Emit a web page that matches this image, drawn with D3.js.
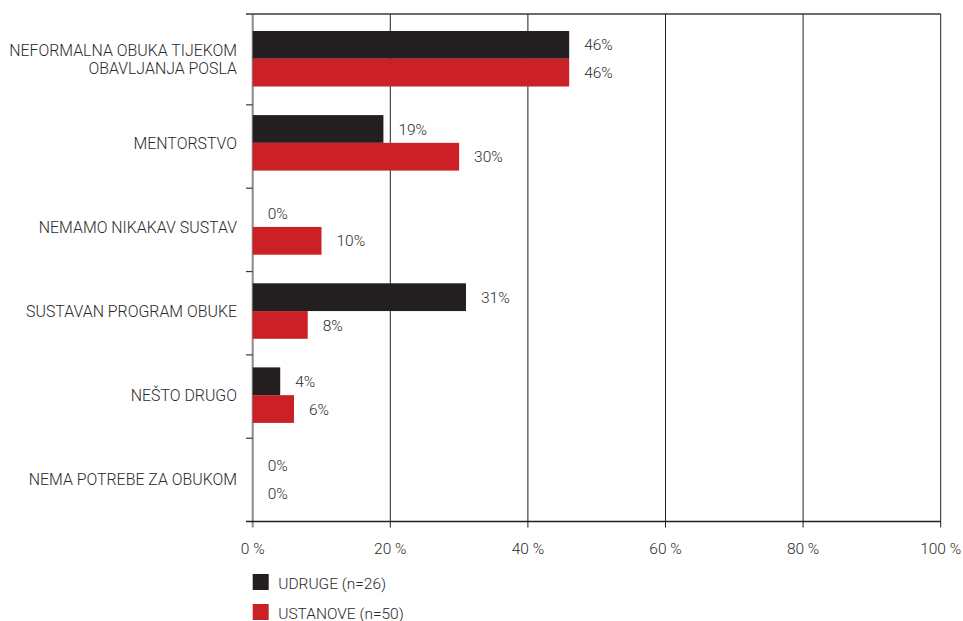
<!DOCTYPE html>
<html>
<head>
<meta charset="utf-8">
<script src="https://cdn.jsdelivr.net/npm/d3@7"></script>
<style>
  html, body { margin: 0; padding: 0; background: #fff; }
  svg { display: block; }
  text { font-family: Roboto, "Liberation Sans", sans-serif; font-weight: 300; fill: #2a2a2a; }
</style>
</head>
<body>
<svg id="chart" width="963" height="621"></svg>
<script>
// Categories (each may wrap onto two lines)
const categories = [
  ["NEFORMALNA OBUKA TIJEKOM", "OBAVLJANJA POSLA"],
  ["MENTORSTVO"],
  ["NEMAMO NIKAKAV SUSTAV"],
  ["SUSTAVAN PROGRAM OBUKE"],
  ["NEŠTO DRUGO"],
  ["NEMA POTREBE ZA OBUKOM"]
];
const seriesNames = ["UDRUGE (n=26)", "USTANOVE (n=50)"];
const udruge   = [46, 19, 0, 31, 4, 0];
const ustanove = [46, 30, 10, 8, 6, 0];
const xTicks = [0, 20, 40, 60, 80, 100];
const colors = ["#231f20", "#cc2027"];

const keys = categories.map(c => c.join(" "));
const values = [udruge, ustanove];

const svg = d3.select("#chart");

const x = d3.scaleLinear().domain([0, 100]).range([252.7, 940.7]);

// Scale for category separators along the left axis
const yAxisScale = d3.scaleBand().domain(keys).range([21.5, 521.6]);
// Scale for the bar groups
const y = d3.scaleBand().domain(keys).range([17, 521])
  .paddingInner(0.34).paddingOuter(0.1665);
const ySub = d3.scaleBand().domain(seriesNames).range([0, y.bandwidth()]);

const yTop = 14, yBottom = 521.6;

// Vertical gridlines (extend below the axis as tick marks)
svg.append("g")
  .selectAll("line")
  .data(xTicks)
  .join("line")
  .attr("x1", d => x(d)).attr("x2", d => x(d))
  .attr("y1", yTop).attr("y2", yBottom + 6)
  .attr("stroke", d => d === 0 ? "#8a8a8a" : "#231f20")
  .attr("stroke-width", d => d === 0 ? 2 : 1);

// Top border line
svg.append("line")
  .attr("x1", 246).attr("x2", x(100))
  .attr("y1", yTop).attr("y2", yTop)
  .attr("stroke", "#3a3a3a").attr("stroke-width", 1.5);

// Bottom axis line
svg.append("line")
  .attr("x1", 246).attr("x2", x(100))
  .attr("y1", yBottom).attr("y2", yBottom)
  .attr("stroke", "#231f20").attr("stroke-width", 1.5);

// Category separator ticks on the left axis
svg.append("g")
  .selectAll("line")
  .data(keys.slice(1))
  .join("line")
  .attr("x1", 246).attr("x2", x(0))
  .attr("y1", d => yAxisScale(d)).attr("y2", d => yAxisScale(d))
  .attr("stroke", "#3a3a3a").attr("stroke-width", 1.2);

// Bars
const rows = svg.append("g")
  .selectAll("g")
  .data(keys)
  .join("g")
  .attr("transform", d => `translate(0,${y(d)})`);

rows.each(function(k, i) {
  const g = d3.select(this);
  seriesNames.forEach((s, j) => {
    const v = values[j][i];
    g.append("rect")
      .attr("x", x(0))
      .attr("y", ySub(s))
      .attr("width", x(v) - x(0))
      .attr("height", ySub.bandwidth())
      .attr("fill", colors[j]);
    g.append("text")
      .attr("x", x(v) + 15)
      .attr("y", ySub(s) + ySub.bandwidth() / 2 + 5.6)
      .attr("font-size", 15.5)
      .text(v + "%");
  });
});

// Category labels
const labelSize = 15.9, lineH = 18;
categories.forEach((lines, i) => {
  const cy = y(keys[i]) + y.bandwidth() / 2;
  const t = svg.append("text")
    .attr("text-anchor", "end")
    .attr("font-size", labelSize);
  lines.forEach((ln, li) => {
    const off = (li - (lines.length - 1) / 2) * lineH;
    t.append("tspan")
      .attr("x", 237)
      .attr("y", cy + off + 5.8)
      .text(ln);
  });
});

// X axis tick labels
svg.append("g")
  .selectAll("text")
  .data(xTicks)
  .join("text")
  .attr("x", d => x(d))
  .attr("y", 554)
  .attr("text-anchor", "middle")
  .attr("font-size", 15.5)
  .text(d => d + " %");

// Legend
const legend = svg.append("g")
  .selectAll("g")
  .data(seriesNames)
  .join("g")
  .attr("transform", (d, i) => `translate(${x(0)},${574 + i * 30})`);
legend.append("rect")
  .attr("width", 16).attr("height", 16)
  .attr("fill", (d, i) => colors[i]);
legend.append("text")
  .attr("x", 25.5).attr("y", 14.5)
  .attr("font-size", 15.5)
  .text(d => d);
</script>
</body>
</html>
